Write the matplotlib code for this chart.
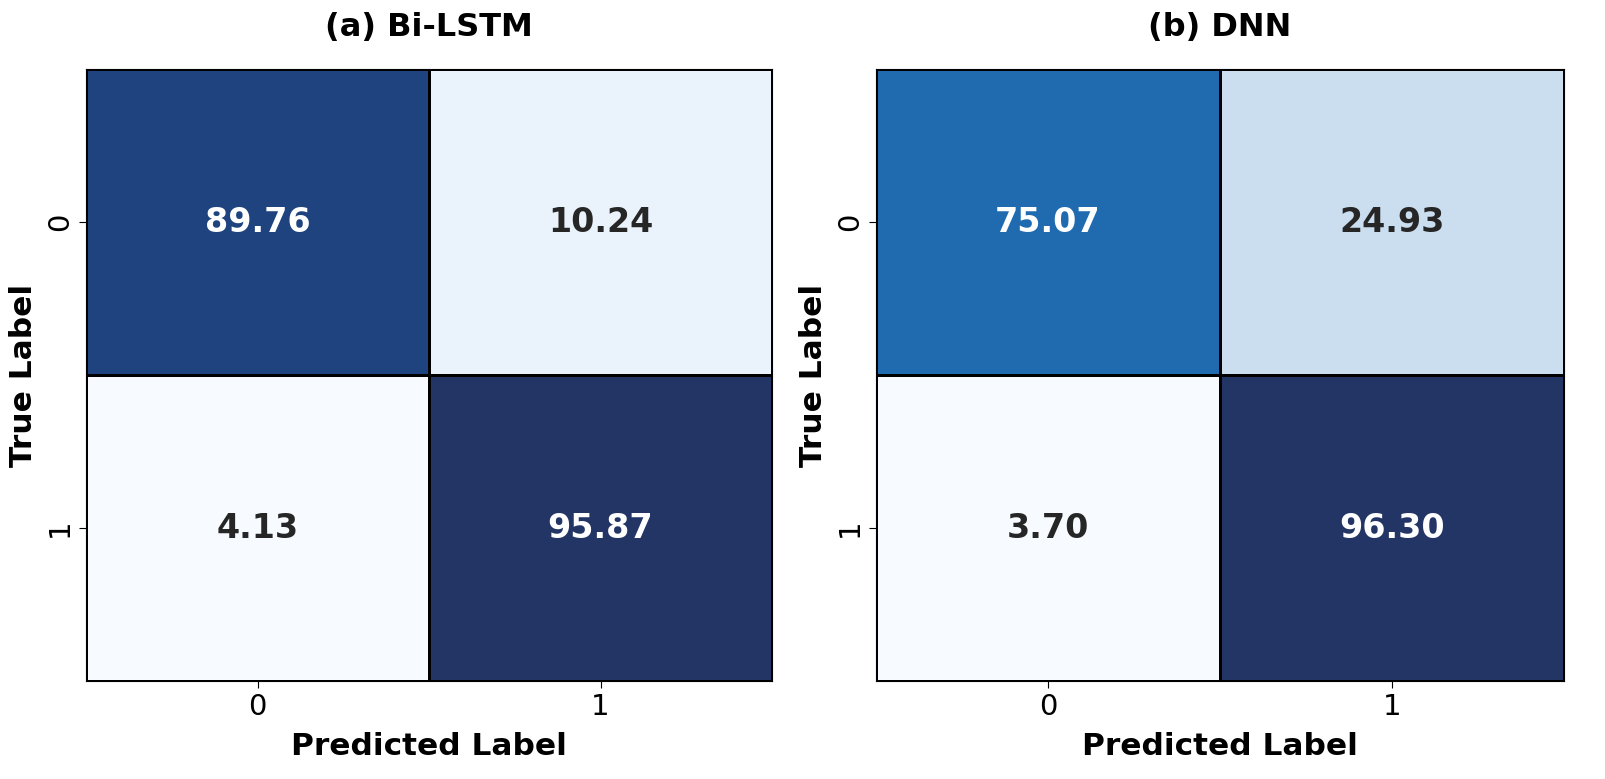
import matplotlib
matplotlib.use("Agg")
import matplotlib.pyplot as plt
from matplotlib.colors import LinearSegmentedColormap
import seaborn as sns
import numpy as np

# confusion matrices (percent)
labels = ["0", "1"]
bilstm_cm = np.array([[89.76, 10.24],
                      [4.13, 95.87]])
dnn_cm = np.array([[75.07, 24.93],
                   [3.70, 96.30]])
titles = ["(a) Bi-LSTM", "(b) DNN"]

# Blues, slightly muted at the dark end like the reference
blues_muted = LinearSegmentedColormap.from_list("blues_muted", [
    (0.0, "#f7fbff"), (0.125, "#deebf7"), (0.25, "#c6dbef"), (0.375, "#9ecae1"),
    (0.5, "#6baed6"), (0.625, "#4292c6"), (0.75, "#2171b5"), (0.875, "#1a4f94"),
    (1.0, "#233565")])

fig = plt.figure(figsize=(16.05, 7.79), dpi=100)
ax1 = fig.add_axes([86 / 1605, 1 - 681 / 779, 686 / 1605, 612 / 779])
ax2 = fig.add_axes([876 / 1605, 1 - 681 / 779, 688 / 1605, 612 / 779])

for ax, cm, t in zip([ax1, ax2], [bilstm_cm, dnn_cm], titles):
    sns.heatmap(cm, ax=ax, annot=True, fmt=".2f", cmap=blues_muted,
                cbar=False, linewidths=0.8, linecolor="black",
                xticklabels=labels, yticklabels=labels,
                annot_kws={"size": 24, "weight": "bold"})
    for s in ax.spines.values():
        s.set_visible(True)
        s.set_color("black")
        s.set_linewidth(0.8)
    ax.set_title(t, fontsize=23, fontweight="bold", pad=24)
    ax.set_xlabel("Predicted Label", fontsize=22.5, fontweight="bold", labelpad=8)
    ax.set_ylabel("True Label", fontsize=22.5, fontweight="bold", labelpad=6)
    ax.tick_params(labelsize=21, length=5)
    for lab in ax.get_yticklabels():
        lab.set_rotation(90)
        lab.set_va("center")

fig.savefig("out.png", dpi=100)
